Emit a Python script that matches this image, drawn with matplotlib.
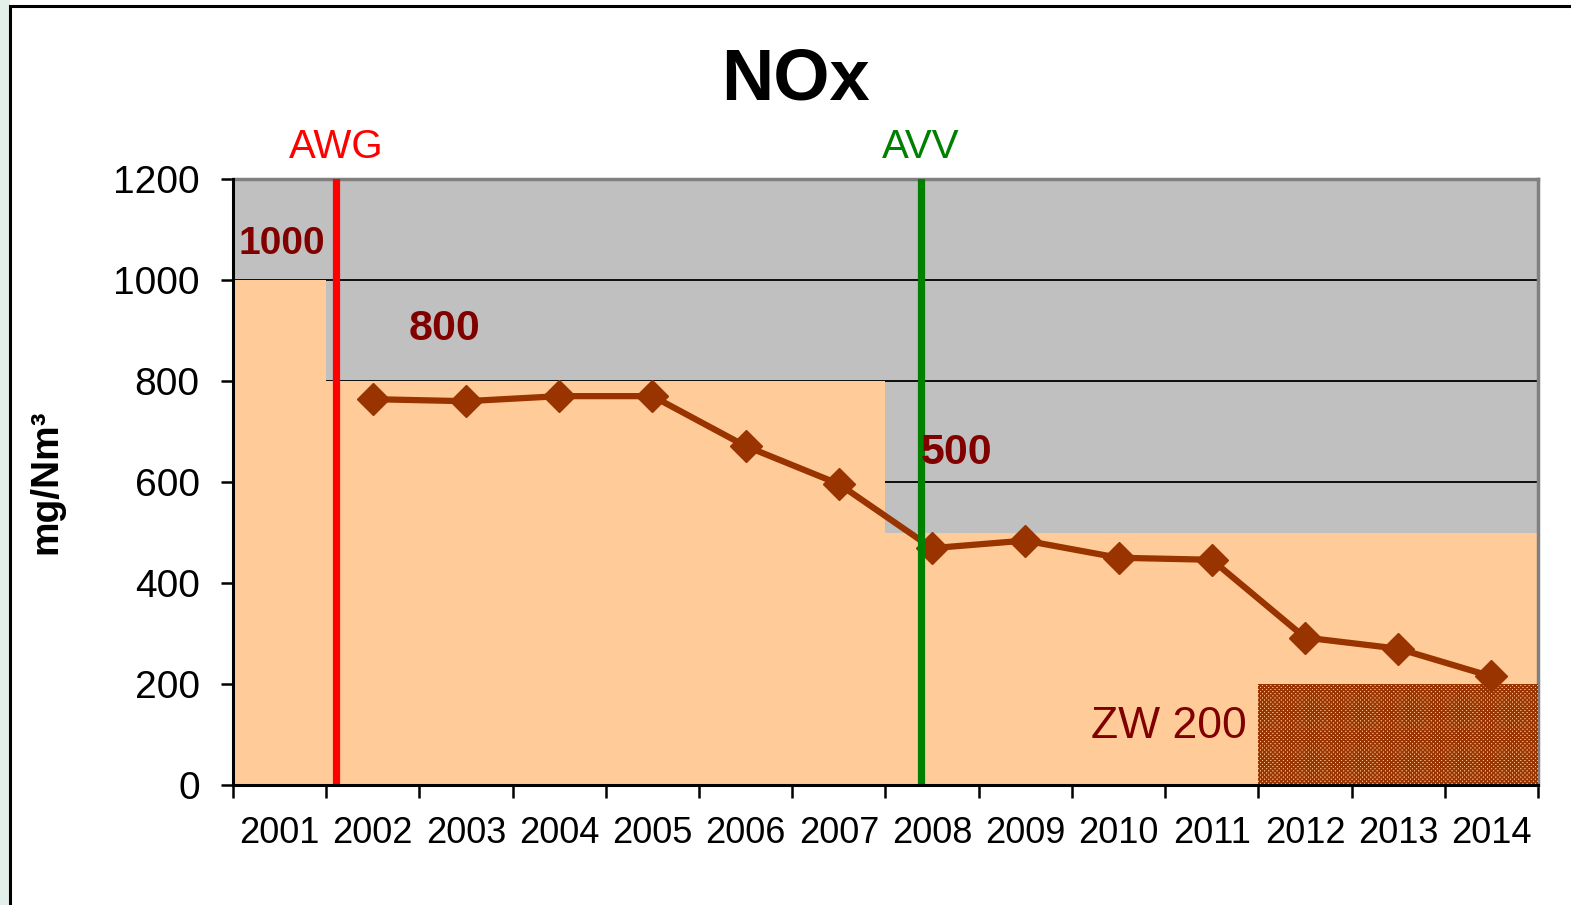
import matplotlib
matplotlib.use("Agg")
import matplotlib.pyplot as plt
from matplotlib.patches import Rectangle
import numpy as np

plt.rcParams['font.family'] = ['Liberation Sans', 'DejaVu Sans']
plt.rcParams['hatch.linewidth'] = 1.2

years = ['2001', '2002', '2003', '2004', '2005', '2006', '2007',
         '2008', '2009', '2010', '2011', '2012', '2013', '2014']
limits = [1000, 800, 800, 800, 800, 800, 800, 500, 500, 500, 500, 500, 500, 500]
zw_years = ['2012', '2013', '2014']
zw_values = [200, 200, 200]
data_years = ['2002', '2003', '2004', '2005', '2006', '2007', '2008',
              '2009', '2010', '2011', '2012', '2013', '2014']
nox = [764, 760, 770, 770, 671, 596, 469, 484, 450, 446, 292, 270, 215]
yticks = [0, 200, 400, 600, 800, 1000, 1200]
awg_pos = 1.605   # position of AWG marker line (category units)
avv_pos = 7.88    # position of AVV marker line

GRAY = '#C0C0C0'
ORANGE = '#FFCC99'
BROWN = '#993300'
DARKRED = '#800000'

fig = plt.figure(figsize=(15.71, 9.05), dpi=100, facecolor='white')
# outer frame
fig.patches.append(Rectangle((0, 0), 10/1571, 1, transform=fig.transFigure,
                             facecolor='#E3F0EA', edgecolor='none', zorder=-2))
fig.patches.append(Rectangle((10/1571, -0.1), 1.2, 1 - 6/905 + 0.1, transform=fig.transFigure,
                             facecolor='none', edgecolor='black', linewidth=2.2, zorder=-1))

ax = fig.add_axes([233/1571, 1 - 785/905, 1305/1571, 606/905])
ax.set_facecolor(GRAY)

xpos = {y: i + 1 for i, y in enumerate(years)}
x_all = np.array([xpos[y] for y in years])

ax.bar(x_all, limits, width=1.0, color=ORANGE, edgecolor='none', zorder=2)
ax.bar([xpos[y] for y in zw_years], zw_values, width=1.0, color=ORANGE,
       edgecolor=BROWN, hatch='xxxxxxxx', linewidth=0, zorder=3)

ax.plot([xpos[y] for y in data_years], nox, color=BROWN, lw=4.5, marker='D',
        ms=16, mfc=BROWN, mec=BROWN, zorder=5, solid_joinstyle='round')

ax.axvline(awg_pos, color='#FF0000', lw=5.2, zorder=6)
ax.axvline(avv_pos, color='#008000', lw=5.2, zorder=6)

ax.set_xlim(0.5, 14.5)
ax.set_ylim(0, 1200)
ax.set_yticks(yticks)
ax.set_yticklabels([str(v) for v in yticks])
ax.yaxis.grid(True, color='black', lw=1.3, zorder=1)
ax.set_axisbelow(True)

ax.set_xticks(np.arange(0.5, 15.0, 1.0))
ax.set_xticklabels([])
ax.set_xticks(x_all, minor=True)
ax.set_xticklabels(years, minor=True)
ax.tick_params(axis='x', which='major', length=9, width=1.8, direction='out', color='black')
ax.tick_params(axis='x', which='minor', length=0, pad=22, labelsize=26)
ax.tick_params(axis='y', length=9, width=1.8, direction='out', pad=15, labelsize=28)

for s in ['top', 'right']:
    ax.spines[s].set_color('#808080')
    ax.spines[s].set_linewidth(2.5)
for s in ['left', 'bottom']:
    ax.spines[s].set_color('black')
    ax.spines[s].set_linewidth(2.2)
ax.spines['left'].set_zorder(7)
ax.spines['bottom'].set_zorder(7)

ax.set_ylabel('mg/Nm³', fontsize=28, fontweight='bold')
ax.yaxis.set_label_coords((64 - 233) / 1305, 0.5)

# limit labels
ax.text(0.555, 1072, '1000', color=DARKRED, fontsize=28, fontweight='bold',
        ha='left', va='center', zorder=8)
ax.text(2.38, 903, '800', color=DARKRED, fontsize=31, fontweight='bold',
        ha='left', va='center', zorder=8)
ax.text(7.88, 657, '500', color=DARKRED, fontsize=31, fontweight='bold',
        ha='left', va='center', zorder=8)
ax.text(11.38, 116, 'ZW 200', color=DARKRED, fontsize=32,
        ha='right', va='center', zorder=8)

ax.text(awg_pos, 1.053, 'AWG', color='#FF0000', fontsize=29, ha='center', va='center',
        transform=ax.get_xaxis_transform())
ax.text(avv_pos, 1.053, 'AVV', color='#008000', fontsize=29, ha='center', va='center',
        transform=ax.get_xaxis_transform())

fig.text(795/1571, 1 - 80/905, 'NOx', fontsize=52, fontweight='bold',
         ha='center', va='center')

fig.savefig('out.png', dpi=100, facecolor='white')
